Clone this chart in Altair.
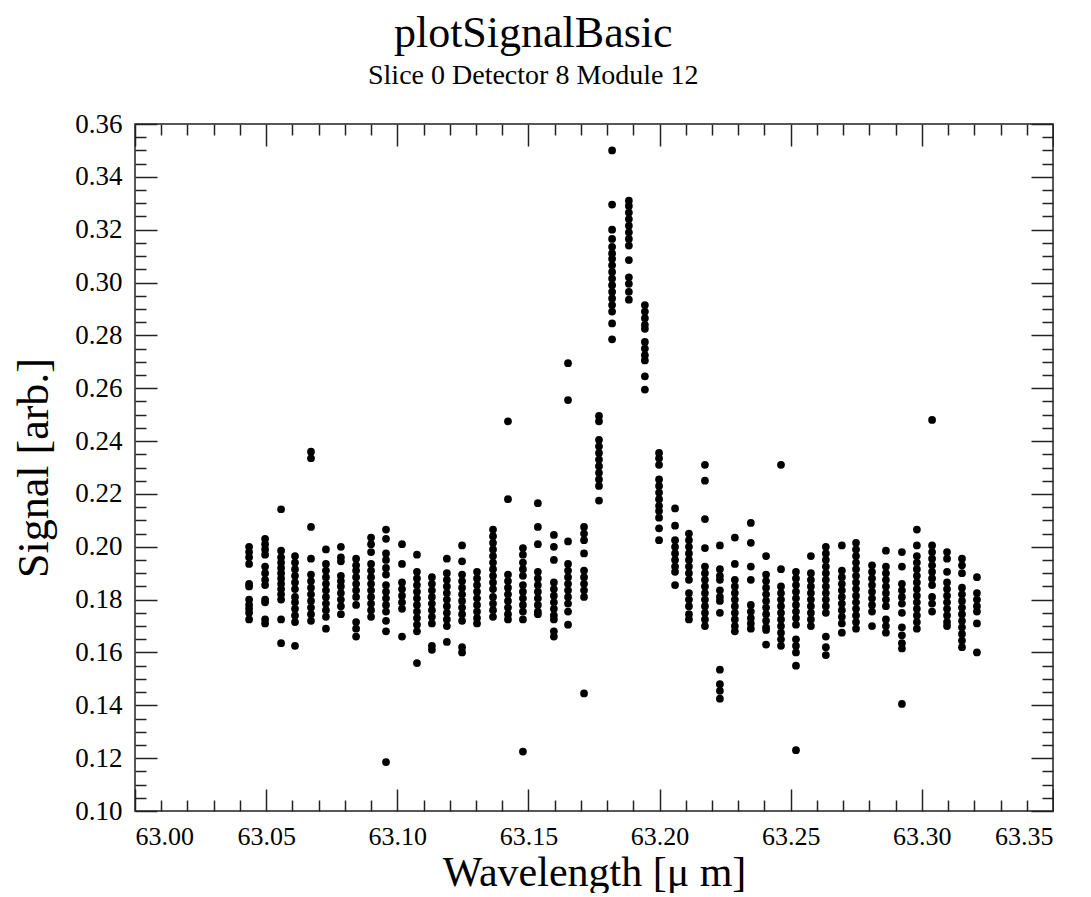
import altair as alt
import pandas as pd

# Column wavelengths (micron)
wave_left = [63.0435, 63.0496, 63.0557, 63.0610, 63.0671, 63.0728, 63.0785, 63.0843,
             63.0900, 63.0957, 63.1018, 63.1075, 63.1132, 63.1189, 63.1247, 63.1304,
             63.1365, 63.1422, 63.1479, 63.1536, 63.1597, 63.1651, 63.1712, 63.1769]
wave_peak = [63.1819, 63.1883, 63.1944]
wave_right = [63.1998, 63.2059, 63.2112, 63.2173, 63.2230, 63.2287, 63.2348, 63.2406,
              63.2463, 63.2520, 63.2577, 63.2634, 63.2695, 63.2749, 63.2810, 63.2863,
              63.2924, 63.2981, 63.3039, 63.3096, 63.3153, 63.3210]

# Signal values in each column
sig_left = [
    [0.200, 0.198, 0.196, 0.1935, 0.186, 0.185, 0.180, 0.178, 0.1765, 0.175, 0.1725],
    [0.203, 0.201, 0.199, 0.197, 0.1925, 0.190, 0.1875, 0.1855, 0.180, 0.179, 0.1725, 0.171],
    [0.2142, 0.1985, 0.196, 0.194, 0.192, 0.190, 0.188, 0.186, 0.184, 0.182, 0.180, 0.1725, 0.1635],
    [0.1965, 0.194, 0.1915, 0.189, 0.1865, 0.184, 0.181, 0.179, 0.1765, 0.174, 0.1715, 0.1625],
    [0.236, 0.2335, 0.2075, 0.1955, 0.1895, 0.187, 0.1845, 0.182, 0.1795, 0.177, 0.1745, 0.172],
    [0.199, 0.1935, 0.191, 0.1885, 0.186, 0.1835, 0.181, 0.1785, 0.176, 0.1735, 0.169],
    [0.200, 0.196, 0.1945, 0.189, 0.187, 0.185, 0.1825, 0.180, 0.1775, 0.1745],
    [0.1955, 0.193, 0.191, 0.1885, 0.186, 0.1835, 0.181, 0.178, 0.1715, 0.169, 0.166],
    [0.2035, 0.201, 0.198, 0.1935, 0.191, 0.1885, 0.186, 0.1835, 0.181, 0.1785, 0.176, 0.1735],
    [0.2065, 0.203, 0.1975, 0.195, 0.192, 0.1895, 0.1855, 0.183, 0.1805, 0.178, 0.1755, 0.172, 0.168, 0.1185],
    [0.201, 0.1935, 0.1865, 0.184, 0.1815, 0.179, 0.1765, 0.166],
    [0.197, 0.1905, 0.188, 0.1855, 0.183, 0.1805, 0.178, 0.1755, 0.173, 0.1705, 0.168, 0.156],
    [0.1885, 0.186, 0.1835, 0.181, 0.1785, 0.176, 0.1735, 0.171, 0.1625, 0.161],
    [0.1955, 0.190, 0.1875, 0.185, 0.1825, 0.180, 0.1775, 0.175, 0.1725, 0.170, 0.164],
    [0.2005, 0.1945, 0.1895, 0.187, 0.1845, 0.182, 0.1795, 0.177, 0.1745, 0.172, 0.162, 0.160],
    [0.1905, 0.188, 0.1855, 0.183, 0.1805, 0.178, 0.1755, 0.173, 0.171],
    [0.2065, 0.204, 0.2015, 0.199, 0.1965, 0.194, 0.1915, 0.189, 0.1865, 0.184, 0.181, 0.1785, 0.176, 0.1735],
    [0.2475, 0.218, 0.1895, 0.187, 0.1845, 0.182, 0.1795, 0.177, 0.1745, 0.1725],
    [0.1995, 0.197, 0.194, 0.1915, 0.189, 0.1855, 0.183, 0.1805, 0.178, 0.1755, 0.1725, 0.1225],
    [0.2165, 0.2075, 0.201, 0.1905, 0.188, 0.1855, 0.183, 0.1805, 0.178, 0.1755, 0.1745],
    [0.2045, 0.200, 0.195, 0.1865, 0.184, 0.1815, 0.179, 0.1765, 0.174, 0.1725, 0.168, 0.166],
    [0.2695, 0.2555, 0.202, 0.1935, 0.191, 0.1885, 0.186, 0.1835, 0.181, 0.1785, 0.1755, 0.1705],
    [0.2075, 0.205, 0.2025, 0.1975, 0.191, 0.1885, 0.186, 0.1835, 0.181, 0.1445],
    [0.2495, 0.2475, 0.2405, 0.238, 0.2355, 0.233, 0.2305, 0.228, 0.2255, 0.223, 0.2175],
]
sig_peak = [
    [0.350, 0.3295, 0.320, 0.3165, 0.3135, 0.311, 0.309, 0.3065, 0.304, 0.3015, 0.299,
     0.2965, 0.294, 0.2915, 0.289, 0.2845, 0.2785],
    [0.331, 0.329, 0.3265, 0.324, 0.3215, 0.319, 0.3165, 0.314, 0.3085, 0.302, 0.2995, 0.2965, 0.2935],
    [0.2915, 0.289, 0.2865, 0.284, 0.2825, 0.2775, 0.275, 0.2725, 0.2705, 0.2645, 0.2595],
]
sig_right = [
    [0.2355, 0.2335, 0.231, 0.2255, 0.223, 0.2205, 0.218, 0.2155, 0.2135, 0.211, 0.207, 0.2025],
    [0.2145, 0.208, 0.2025, 0.200, 0.1975, 0.195, 0.1925, 0.1905, 0.1855],
    [0.205, 0.2025, 0.200, 0.1975, 0.195, 0.1925, 0.190, 0.1875, 0.1825, 0.180, 0.1775, 0.1745, 0.1725],
    [0.231, 0.225, 0.2105, 0.1995, 0.1925, 0.190, 0.1875, 0.185, 0.1825, 0.180, 0.1775, 0.175, 0.1725, 0.170],
    [0.2005, 0.1915, 0.189, 0.1875, 0.1835, 0.181, 0.1795, 0.175, 0.1535, 0.148, 0.1455, 0.1425],
    [0.2035, 0.1935, 0.1875, 0.185, 0.1825, 0.180, 0.1775, 0.175, 0.1725, 0.170, 0.168],
    [0.209, 0.2015, 0.1925, 0.1875, 0.178, 0.1755, 0.173, 0.171, 0.169],
    [0.1965, 0.1895, 0.187, 0.1845, 0.182, 0.1795, 0.177, 0.1745, 0.172, 0.1695, 0.1685, 0.163],
    [0.231, 0.1915, 0.185, 0.1825, 0.180, 0.1775, 0.175, 0.1725, 0.170, 0.1675, 0.165, 0.1625],
    [0.1905, 0.188, 0.1855, 0.183, 0.1805, 0.178, 0.1755, 0.173, 0.1705, 0.165, 0.1625, 0.160, 0.155, 0.123],
    [0.1965, 0.190, 0.1875, 0.185, 0.1825, 0.180, 0.1775, 0.175, 0.1725, 0.170],
    [0.200, 0.1975, 0.195, 0.1925, 0.190, 0.1875, 0.185, 0.1825, 0.180, 0.1775, 0.175, 0.166, 0.162, 0.159],
    [0.2005, 0.191, 0.1885, 0.186, 0.1835, 0.181, 0.1785, 0.176, 0.1735, 0.171, 0.1675],
    [0.2015, 0.199, 0.1965, 0.194, 0.1915, 0.189, 0.1865, 0.184, 0.1815, 0.179, 0.1765, 0.174, 0.1715, 0.169],
    [0.193, 0.1905, 0.188, 0.1855, 0.183, 0.1805, 0.178, 0.1755, 0.170],
    [0.1985, 0.1925, 0.190, 0.1875, 0.185, 0.1825, 0.180, 0.1775, 0.1725, 0.170, 0.1675],
    [0.198, 0.1925, 0.186, 0.1835, 0.181, 0.1785, 0.175, 0.1695, 0.1665, 0.1635, 0.1615, 0.1405],
    [0.2065, 0.2005, 0.1965, 0.194, 0.1915, 0.189, 0.1865, 0.184, 0.1815, 0.179, 0.1765, 0.174, 0.1715, 0.169],
    [0.248, 0.2005, 0.198, 0.1955, 0.193, 0.1905, 0.188, 0.1855, 0.181, 0.1785, 0.1755],
    [0.198, 0.1955, 0.1905, 0.1865, 0.184, 0.1815, 0.179, 0.1765, 0.174, 0.1715, 0.170],
    [0.1955, 0.193, 0.190, 0.1845, 0.182, 0.1795, 0.177, 0.1745, 0.172, 0.1695, 0.167, 0.1645, 0.162],
    [0.1885, 0.1825, 0.180, 0.1775, 0.1755, 0.171, 0.160],
]

x_major = [63.00, 63.05, 63.10, 63.15, 63.20, 63.25, 63.30, 63.35]
x_minor = [63.01, 63.02, 63.03, 63.04, 63.06, 63.07, 63.08, 63.09, 63.11, 63.12, 63.13, 63.14,
           63.16, 63.17, 63.18, 63.19, 63.21, 63.22, 63.23, 63.24, 63.26, 63.27, 63.28, 63.29,
           63.31, 63.32, 63.33, 63.34]
y_major = [0.10, 0.12, 0.14, 0.16, 0.18, 0.20, 0.22, 0.24, 0.26, 0.28, 0.30, 0.32, 0.34, 0.36]
y_minor = [0.105, 0.11, 0.115, 0.125, 0.13, 0.135, 0.145, 0.15, 0.155, 0.165, 0.17, 0.175,
           0.185, 0.19, 0.195, 0.205, 0.21, 0.215, 0.225, 0.23, 0.235, 0.245, 0.25, 0.255,
           0.265, 0.27, 0.275, 0.285, 0.29, 0.295, 0.305, 0.31, 0.315, 0.325, 0.33, 0.335,
           0.345, 0.35, 0.355]

rows = []
for waves, sigs in ((wave_left, sig_left), (wave_peak, sig_peak), (wave_right, sig_right)):
    for w, col in zip(waves, sigs):
        for s in col:
            rows.append({"wavelength": w, "signal": s})
df = pd.DataFrame(rows)

W, H = 918, 687
FONT = "Liberation Serif"
TICK_COLOR = "#222222"

xscale = alt.Scale(domain=[63.0, 63.35], nice=False, zero=False)
yscale = alt.Scale(domain=[0.10, 0.36], nice=False, zero=False)

main = alt.Chart(df).mark_circle(size=60, color="black", opacity=1).encode(
    x=alt.X("wavelength:Q", scale=xscale,
            axis=alt.Axis(values=x_major, format=".2f", ticks=False, domain=False, grid=False,
                          labelFont=FONT, labelFontSize=26, labelColor="black", labelPadding=12,
                          title="Wavelength [μ m]", titleFont=FONT, titleFontSize=42,
                          titleFontWeight="normal", titleColor="black", titlePadding=3)),
    y=alt.Y("signal:Q", scale=yscale,
            axis=alt.Axis(values=y_major, format=".2f", ticks=False, domain=False, grid=False,
                          labelFont=FONT, labelFontSize=27, labelColor="black", labelPadding=13,
                          title="Signal [arb.]", titleFont=FONT, titleFontSize=44,
                          titleFontWeight="normal", titleColor="black", titlePadding=18)),
)


def tick_layer(xvals, yvals, size, xorient, yorient):
    return alt.Chart(df).mark_point(opacity=0, size=1).encode(
        x=alt.X("wavelength:Q", scale=xscale,
                axis=alt.Axis(values=xvals, orient=xorient, offset=-H, tickSize=size,
                              tickColor=TICK_COLOR, tickWidth=1.5, labels=False,
                              domain=False, grid=False, title="")),
        y=alt.Y("signal:Q", scale=yscale,
                axis=alt.Axis(values=yvals, orient=yorient, offset=-W, tickSize=size,
                              tickColor=TICK_COLOR, tickWidth=1.5, labels=False,
                              domain=False, grid=False, title="")),
    )


layers = [
    main,
    tick_layer(x_major, y_major, 22, "top", "right"),    # bottom & left edges
    tick_layer(x_minor, y_minor, 11, "top", "right"),
    tick_layer(x_major, y_major, 22, "bottom", "left"),  # top & right edges
    tick_layer(x_minor, y_minor, 11, "bottom", "left"),
]

chart = alt.layer(*layers).resolve_scale(x="independent", y="independent").properties(
    width=W, height=H,
    padding={"left": 4, "top": 4, "right": 0, "bottom": 0},
    title=alt.TitleParams(text="plotSignalBasic", subtitle="Slice 0 Detector 8 Module 12",
                          font=FONT, fontSize=44, fontWeight="normal", color="black",
                          subtitleFont=FONT, subtitleFontSize=28, subtitleColor="black",
                          subtitlePadding=6, anchor="middle", frame="bounds", offset=20),
).configure_view(stroke="#222222", strokeWidth=1.5)

chart.save("out.html", embed_options={"renderer": "svg", "actions": False})
